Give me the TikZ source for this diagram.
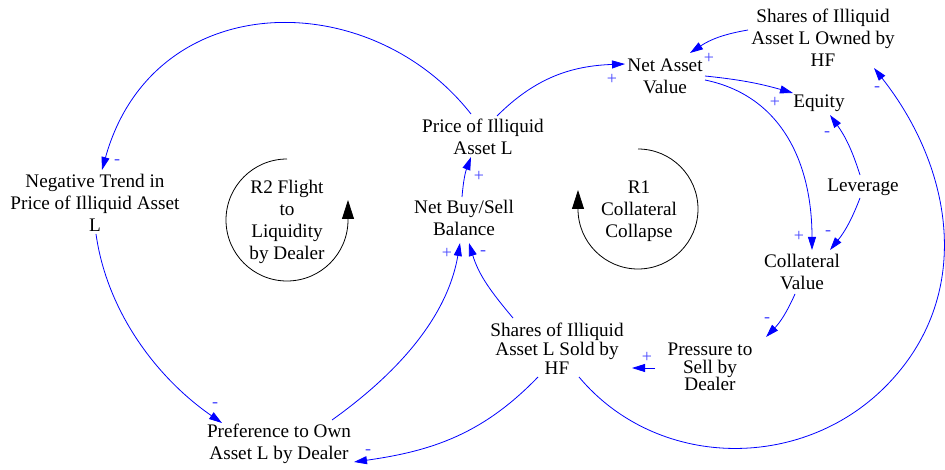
\documentclass[tikz,border=0pt]{standalone}
\usepackage{fontspec}
\setmainfont{Liberation Serif}
\newfontfamily\varfont{Liberation Serif}
\usetikzlibrary{arrows.meta}
\definecolor{sgncol}{RGB}{70,70,255}
\begin{document}
\begin{tikzpicture}[x=1pt,y=-1pt,
  var/.style={align=center,inner sep=0pt,font=\varfont\fontsize{19.2}{22}\selectfont},
  conn/.style={draw=blue,line width=0.8pt,-{Triangle[length=13pt,width=8pt]}},
  loopc/.style={draw=black,line width=0.8pt,-{Triangle[length=19pt,width=12pt]}},
  sgn/.style={text=sgncol,inner sep=0pt,font=\varfont\fontsize{18}{18}\selectfont}]
\useasboundingbox (0,0) rectangle (945,470);

% variables
\node[var] (owned) at (823,38) {Shares of Illiquid\\Asset L Owned by\\HF};
\node[var] (nav) at (665,76) {Net Asset\\Value};
\node[var] (equity) at (819,103) {Equity};
\node[var] (lev) at (863,187) {Leverage};
\node[var] (collat) at (802,272) {Collateral\\Value};
\node[var,font=\varfont\fontsize{19.2}{17.5}\selectfont] (press) at (710,367) {Pressure to\\Sell by\\Dealer};
\node[var,font=\varfont\fontsize{19.2}{19}\selectfont] (sold) at (557,349) {Shares of Illiquid\\Asset L Sold by\\HF};
\node[var] (price) at (483,137) {Price of Illiquid\\Asset L};
\node[var] (buysell) at (464,218) {Net Buy/Sell\\Balance};
\node[var] (neg) at (95,203) {Negative Trend in\\Price of Illiquid Asset\\L};
\node[var] (pref) at (279,444) {Preference to Own\\Asset L by Dealer};

% loop labels
\coordinate (r1c) at (638,209);
\coordinate (r2c) at (287,220);
\node[var] (r1) at (639,211) {R1\\Collateral\\Collapse};
\node[var] (r2) at (287,222) {R2 Flight\\to\\Liquidity\\by Dealer};
\draw[loopc] ([yshift=60pt]r1c) arc[start angle=90,end angle=-180,radius=60pt] -- ++(0,-19);
\draw[loopc] ([yshift=61pt]r2c) arc[start angle=90,end angle=360,radius=61pt] -- ++(0,-20);

% connectors
\draw[conn] ([shift={(14,-21)}]price.center) to[out=45,in=182] ([shift={(-40,-12)}]nav.center);
\draw[conn] ([shift={(-12,-23)}]price.center) .. controls +(-102,-130) and +(51,-183) .. ([shift={(7,-33)}]neg.center);
\draw[conn] ([shift={(-75,-8)}]owned.center) to[bend right=12] ([shift={(25,-23)}]nav.center);
\draw[conn] ([shift={(40,0)}]nav.center) to[bend left=5] ([shift={(-26,-10)}]equity.center);
\draw[conn] ([shift={(40,4)}]nav.center) .. controls +(78,16) and +(0,-85) .. ([shift={(10,-22)}]collat.center);
\draw[conn] ([shift={(-3,-12)}]lev.center) to[bend right=9] ([shift={(11,12)}]equity.center);
\draw[conn] ([shift={(-3,11)}]lev.center) to[bend left=9] ([shift={(28,-22)}]collat.center);
\draw[conn] ([shift={(-7,22)}]collat.center) to[bend left=10] ([shift={(56,-30)}]press.center);
\draw[conn] ([shift={(-55,1)}]press.center) -- ([shift={(75,19)}]sold.center);
\coordinate (w) at (885,387);
\draw[conn] ([shift={(22,28)}]sold.center) .. controls +(77,92) and +(-85,85) .. (w)
  .. controls +(90.5,-90.5) and +(79,100) .. ([shift={(51,30)}]owned.center);
\draw[conn] ([shift={(-44,-31)}]sold.center) to[out=130,in=-73] ([shift={(5,25)}]buysell.center);
\draw[conn] ([shift={(53,-24)}]pref.center) .. controls +(63,-45) and +(-13,76) .. ([shift={(-4,25)}]buysell.center);
\draw[conn] ([shift={(-19,28)}]sold.center) to[out=226,in=8] ([shift={(75,18)}]pref.center);
\draw[conn] ([shift={(1,31)}]neg.center) .. controls +(11,78) and +(-65,-45) .. ([shift={(-57,-21)}]pref.center);
\draw[conn] ([shift={(-2,-21)}]buysell.center) to[bend left=8] ([shift={(-12,20)}]price.center);

% polarity signs
\node[sgn] (s1) at (612,79) {+};
\node[sgn] (s2) at (709,58) {+};
\node[sgn] (s3) at (775,102) {+};
\node[sgn] (s4) at (827,134) {-};
\node[sgn] (s5) at (877,89) {-};
\node[sgn] (s6) at (799,236) {+};
\node[sgn] (s7) at (828,233) {-};
\node[sgn] (s8) at (767,320) {-};
\node[sgn] (s9) at (647,357) {+};
\node[sgn] (s10) at (479,176) {+};
\node[sgn] (s11) at (447,253) {+};
\node[sgn] (s12) at (483,253) {-};
\node[sgn] (s13) at (117,162) {-};
\node[sgn] (s14) at (215,405) {-};
\node[sgn] (s15) at (368,452) {-};
\end{tikzpicture}
\end{document}
